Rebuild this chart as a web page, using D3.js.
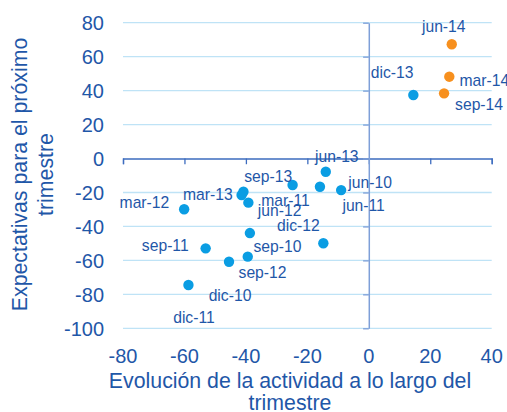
<!DOCTYPE html>
<html><head><meta charset="utf-8">
<script src="https://cdn.jsdelivr.net/npm/d3@7"></script>
<style>body{margin:0;background:#fff}svg{display:block;font-family:"Liberation Sans",Arial,sans-serif}</style>
</head><body><svg id="c" width="507" height="412"></svg>
<script>
// Data
const labels = ["jun-10","sep-10","dic-10","mar-11","jun-11","sep-11","dic-11","mar-12","jun-12","sep-12","dic-12","mar-13","jun-13","sep-13","dic-13","mar-14","jun-14","sep-14"];
const actividad = [-9.0,-38.7,-45.5,-40.8,-15.9,-53.1,-58.7,-60.1,-39.2,-39.4,-14.8,-41.4,-14.0,-24.8,14.5,26.2,27.0,24.5];
const expectativas = [-18.6,-43.9,-60.8,-19.6,-16.6,-52.9,-74.5,-29.9,-26.0,-57.8,-49.9,-21.5,-7.8,-15.6,37.4,48.2,67.3,38.4];
const serie = ["h","h","h","h","h","h","h","h","h","h","h","h","h","h","h","p","p","p"]; // h: histórico, p: 2014
const xTicks = [-80,-60,-40,-20,0,20,40];
const yTicks = [80,60,40,20,0,-20,-40,-60,-80,-100];

// Layout (label offsets in px relative to point)
const labelOffset = {
 "jun-10":[29,-8],"sep-10":[27.5,13.7],"dic-10":[1,33.3],"mar-11":[42,8.3],"jun-11":[43.7,19],
 "sep-11":[-40.4,-3.3],"dic-11":[5.5,32.3],"mar-12":[-39.7,-6.6],"jun-12":[31.2,7.3],"sep-12":[14.8,15.6],
 "dic-12":[-25,-17.6],"mar-13":[-33.7,-0.7],"jun-13":[11,-15],"sep-13":[-24.4,-9],"dic-13":[-21.3,-22.3],
 "mar-14":[35,3.3],"jun-14":[-8,-17.6],"sep-14":[35,10.7]
};
const textColor = "#1F57A8";
const svg = d3.select("#c");
const x = d3.scaleLinear().domain([-80,40]).range([123,491.7]);
const y = d3.scaleLinear().domain([-100,80]).range([328.3,22.7]);

// gridlines
svg.append("g").selectAll("line").data(yTicks.filter(d=>d!==0)).join("line")
 .attr("x1",x(-80)).attr("x2",x(40)).attr("y1",d=>y(d)).attr("y2",d=>y(d))
 .attr("stroke","#BFE3F6").attr("stroke-width",1.3);

// x axis at y=0
const xa = svg.append("g").attr("transform",`translate(0,${y(0)})`)
 .call(d3.axisBottom(x).tickValues(xTicks).tickSize(5.7).tickFormat(""));
xa.select(".domain").attr("stroke","#3D6CBF").attr("stroke-width",1.3);
xa.selectAll(".tick line").attr("stroke","#3D6CBF").attr("stroke-width",1.3);

// y axis at x=0
const ya = svg.append("g").attr("transform",`translate(${x(0)},0)`)
 .call(d3.axisLeft(y).tickValues(yTicks).tickSize(5.7).tickSizeOuter(0).tickFormat(""));
ya.select(".domain").attr("stroke","#7E9FD8").attr("stroke-width",1.5);
ya.selectAll(".tick line").attr("stroke","#7E9FD8").attr("stroke-width",1.3);

// tick labels
svg.append("g").selectAll("text").data(xTicks).join("text")
 .attr("x",d=>x(d)).attr("y",363.3).attr("text-anchor","middle")
 .attr("font-size",20).attr("fill",textColor).text(d=>d);
svg.append("g").selectAll("text").data(yTicks).join("text")
 .attr("x",104).attr("y",d=>y(d)+7.2).attr("text-anchor","end")
 .attr("font-size",20).attr("fill",textColor).text(d=>d);

// axis titles
const xt = svg.append("text").attr("text-anchor","middle").attr("font-size",21.3).attr("fill",textColor);
xt.append("tspan").attr("x",290).attr("y",388.3).text("Evolución de la actividad a lo largo del");
xt.append("tspan").attr("x",290).attr("y",410).text("trimestre");
const yt = svg.append("text").attr("text-anchor","middle").attr("font-size",21.3).attr("fill",textColor)
 .attr("transform","rotate(-90)");
yt.append("tspan").attr("x",-174.5).attr("y",27).text("Expectativas para el próximo");
yt.append("tspan").attr("x",-174.5).attr("y",52.5).text("trimestre");

// points
const pts = labels.map((l,i)=>({l,x:actividad[i],y:expectativas[i],s:serie[i]}));
svg.append("g").selectAll("circle").data(pts).join("circle")
 .attr("cx",d=>x(d.x)).attr("cy",d=>y(d.y)).attr("r",5.2)
 .attr("fill",d=>d.s==="p"?"#F7901E":"#0A9DE3");

// labels
svg.append("g").selectAll("text").data(pts).join("text")
 .attr("x",d=>x(d.x)+labelOffset[d.l][0]).attr("y",d=>y(d.y)+labelOffset[d.l][1]+5.6)
 .attr("text-anchor","middle").attr("font-size",15.7).attr("fill",textColor).text(d=>d.l);
</script></body></html>
